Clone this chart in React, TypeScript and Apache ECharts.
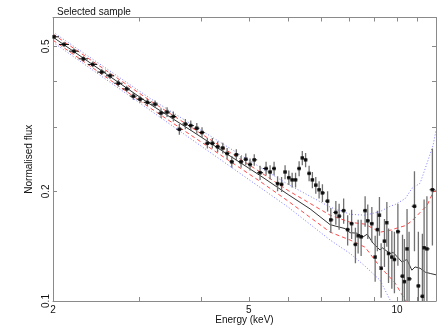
import React, { useEffect, useRef } from "react";
import * as echarts from "echarts";

const titleText = "Selected sample";
const xAxisTitle = "Energy (keV)";
const yAxisTitle = "Normalised flux";
const xRange = [2, 12];
const yRange = [0.1, 0.6];
const xTickValues = [2, 3, 4, 5, 6, 7, 8, 9, 10, 11, 12];
const xLabelValues = [2, 5, 10];
const yTickValues = [0.1, 0.2, 0.3, 0.4, 0.5, 0.6];
const yLabelValues = [0.1, 0.2, 0.5];

const energy = [
  2.01, 2.106, 2.207, 2.305, 2.409, 2.512, 2.612, 2.715, 2.824, 2.912,
  3.005, 3.11, 3.224, 3.315, 3.41, 3.512, 3.612, 3.715, 3.81, 3.919,
  4.016, 4.118, 4.215, 4.32, 4.426, 4.516, 4.616, 4.715, 4.821, 4.929,
  5.028, 5.128, 5.269, 5.419, 5.522, 5.626, 5.719, 5.827, 5.923, 6.028,
  6.122, 6.221, 6.325, 6.42, 6.52, 6.628, 6.73, 6.838, 6.945, 7.054,
  7.227, 7.336, 7.511, 7.627, 7.79, 7.937, 8.086, 8.231, 8.336, 8.454,
  8.613, 8.721, 8.888, 9.027, 9.123, 9.21, 9.283, 9.429, 9.535, 9.61,
  9.76, 9.879, 10.04, 10.26, 10.35, 10.48, 10.58, 10.85, 11.05, 11.26,
  11.35, 11.5, 11.8,
];
const flux = [
  0.531, 0.506, 0.485, 0.462, 0.446, 0.425, 0.415, 0.396, 0.382, 0.365,
  0.358, 0.351, 0.347, 0.328, 0.33, 0.321, 0.296, 0.306, 0.303, 0.298,
  0.29, 0.271, 0.271, 0.265, 0.263, 0.254, 0.241, 0.252, 0.241, 0.245,
  0.237, 0.244, 0.225, 0.231, 0.226, 0.231, 0.21, 0.209, 0.226, 0.218,
  0.215, 0.215, 0.231, 0.247, 0.244, 0.224, 0.215, 0.208, 0.202, 0.198,
  0.188, 0.167, 0.175, 0.171, 0.177, 0.157, 0.163, 0.143, 0.151, 0.15,
  0.177, 0.166, 0.163, 0.132, 0.157, 0.172, 0.123, 0.146, 0.164, 0.135,
  0.132, 0.13, 0.155, 0.117, 0.113, 0.139, 0.115, 0.182, 0.11, 0.103,
  0.14, 0.139, 0.202,
];
const fluxErr = [
  0.008, 0.008, 0.008, 0.008, 0.008, 0.008, 0.008, 0.008, 0.008, 0.008,
  0.008, 0.008, 0.008, 0.01, 0.01, 0.01, 0.01, 0.01, 0.01, 0.01,
  0.01, 0.009, 0.009, 0.009, 0.009, 0.009, 0.009, 0.009, 0.009, 0.009,
  0.009, 0.009, 0.01, 0.01, 0.01, 0.01, 0.01, 0.01, 0.01, 0.01,
  0.01, 0.01, 0.011, 0.011, 0.011, 0.011, 0.011, 0.011, 0.011, 0.011,
  0.012, 0.013, 0.013, 0.014, 0.014, 0.015, 0.015, 0.016, 0.016, 0.017,
  0.017, 0.018, 0.018, 0.019, 0.02, 0.021, 0.021, 0.022, 0.023, 0.023,
  0.024, 0.025, 0.03, 0.035, 0.035, 0.04, 0.04, 0.045, 0.045, 0.05,
  0.05, 0.055, 0.06,
];

const modelEnergy = [
  2.0, 2.269, 2.612, 3.149, 3.798, 4.58, 5.269, 6.008, 6.658, 7.313,
  7.843, 8.03, 8.297, 8.533, 8.694, 8.942, 9.239, 9.33, 9.683, 9.82,
  10.23, 10.47, 10.72, 10.88, 11.14, 11.41, 11.68, 12.0,
];
const modelFlux = [
  0.53, 0.471, 0.413, 0.347, 0.295, 0.25, 0.221, 0.196, 0.179, 0.162,
  0.158, 0.154, 0.1535, 0.15, 0.1525, 0.144, 0.138, 0.14, 0.135, 0.136,
  0.128, 0.13, 0.1215, 0.124, 0.123, 0.12, 0.119, 0.118,
];

const bandEnergy = [2.0, 3.149, 5.269, 6.008, 7.313, 8.03, 8.613, 9.239, 9.683, 9.912, 10.39, 10.73, 11.14, 11.51, 11.84, 12.0];
const redUpper = [0.54, 0.355, 0.226, 0.201, 0.172, 0.1645, 0.1625, 0.1545, 0.1564, 0.158, 0.161, 0.166, 0.175, 0.183, 0.199, 0.201];
const redLower = [0.52, 0.339, 0.213, 0.188, 0.1545, 0.147, 0.1405, 0.124, 0.116, 0.112, 0.1005, 0.094, 0.09, 0.09, 0.09, 0.09];
const blueUpper = [0.547, 0.36, 0.233, 0.209, 0.181, 0.173, 0.172, 0.176, 0.182, 0.184, 0.191, 0.204, 0.2105, 0.239, 0.268, 0.294];
const blueLower = [0.513, 0.334, 0.205, 0.181, 0.147, 0.135, 0.1246, 0.114, 0.1005, 0.094, 0.09, 0.09, 0.09, 0.09, 0.09, 0.09];

const FONT = "Liberation Sans, Arial, sans-serif";
const AXIS_GRAY = "#8a8a8a";

export default function App() {
  const ref = useRef<HTMLDivElement>(null);

  useEffect(() => {
    document.body.style.margin = "0";
    const chart = echarts.init(ref.current as HTMLDivElement, null, { renderer: "svg" });
    const lg = (v: number) => Math.log10(v);
    const fmt = (v: number) => String(Number(Math.pow(10, v).toPrecision(2)));
    const n = energy.length;
    const errData = energy.map((e, i) => {
      const lo = i === 0 ? e * Math.sqrt(e / energy[1]) : Math.sqrt(energy[i - 1] * e);
      const hi = i === n - 1 ? e * Math.sqrt(e / energy[n - 2]) : Math.sqrt(energy[i + 1] * e);
      return [e, flux[i], fluxErr[i], lo, hi];
    });
    const pair = (xs: number[], ys: number[]) => xs.map((x, i) => [x, ys[i]]);
    const bandLine = (data: number[][], color: string, dash: number[]) => ({
      type: "line",
      xAxisIndex: 0,
      yAxisIndex: 0,
      data,
      showSymbol: false,
      symbol: "none",
      silent: true,
      clip: true,
      lineStyle: { color, width: 1, type: dash },
      z: 2,
    });
    const tickAxisCommon = {
      axisLine: { show: true, onZero: false, lineStyle: { color: AXIS_GRAY, width: 1 } },
      splitLine: { show: false },
    };

    chart.setOption({
      animation: false,
      title: {
        text: titleText,
        left: 52,
        top: 1,
        textStyle: { fontSize: 10, fontWeight: "normal", color: "#111", fontFamily: FONT },
      },
      grid: { left: 53, right: 1, top: 17.5, bottom: 26, outerBoundsMode: "none", containLabel: false },
      xAxis: [
        { type: "log", logBase: 10, min: xRange[0], max: xRange[1], show: false },
        {
          type: "value",
          min: lg(xRange[0]),
          max: lg(xRange[1]),
          position: "bottom",
          ...tickAxisCommon,
          axisTick: { show: true, inside: true, length: 4, customValues: xTickValues.map(lg), lineStyle: { color: AXIS_GRAY } },
          axisLabel: { show: true, margin: 3, customValues: xLabelValues.map(lg), formatter: (v: number) => fmt(v), fontSize: 10, color: "#111", fontFamily: FONT },
          name: xAxisTitle,
          nameLocation: "middle",
          nameGap: 13,
          nameMoveOverlap: false,
          nameTextStyle: { fontSize: 10, color: "#111", fontFamily: FONT },
        },
        {
          type: "value",
          min: lg(xRange[0]),
          max: lg(xRange[1]),
          position: "top",
          ...tickAxisCommon,
          axisTick: { show: true, inside: true, length: 4, customValues: xTickValues.map(lg), lineStyle: { color: AXIS_GRAY } },
          axisLabel: { show: false },
        },
      ],
      yAxis: [
        { type: "log", logBase: 10, min: yRange[0], max: yRange[1], show: false },
        {
          type: "value",
          min: lg(yRange[0]),
          max: lg(yRange[1]),
          position: "left",
          ...tickAxisCommon,
          axisTick: { show: true, inside: true, length: 4, customValues: yTickValues.map(lg), lineStyle: { color: AXIS_GRAY } },
          axisLabel: { show: true, margin: 3, rotate: 90, customValues: yLabelValues.map(lg), formatter: (v: number) => fmt(v), fontSize: 10, color: "#111", fontFamily: FONT },
          name: yAxisTitle,
          nameLocation: "middle",
          nameGap: 20,
          nameRotate: 90,
          nameMoveOverlap: false,
          nameTextStyle: { fontSize: 10, color: "#111", fontFamily: FONT },
        },
        {
          type: "value",
          min: lg(yRange[0]),
          max: lg(yRange[1]),
          position: "right",
          ...tickAxisCommon,
          axisTick: { show: true, inside: true, length: 4, customValues: yTickValues.map(lg), lineStyle: { color: AXIS_GRAY } },
          axisLabel: { show: false },
        },
      ],
      series: [
        bandLine(pair(bandEnergy, blueUpper), "#7c7cff", [1, 2]),
        bandLine(pair(bandEnergy, blueLower), "#7c7cff", [1, 2]),
        bandLine(pair(bandEnergy, redUpper), "#ff4a4a", [4, 3]),
        bandLine(pair(bandEnergy, redLower), "#ff4a4a", [4, 3]),
        {
          type: "line",
          xAxisIndex: 0,
          yAxisIndex: 0,
          data: pair(modelEnergy, modelFlux),
          showSymbol: false,
          symbol: "none",
          silent: true,
          clip: true,
          lineStyle: { color: "#333", width: 1 },
          z: 3,
        },
        {
          type: "custom",
          xAxisIndex: 0,
          yAxisIndex: 0,
          data: errData,
          encode: { x: 0, y: 1 },
          clip: true,
          silent: true,
          z: 4,
          renderItem: (params: any, api: any) => {
            const e = api.value(0);
            const f = api.value(1);
            const err = api.value(2);
            const top = api.coord([e, f + err]);
            const bot = api.coord([e, f - err]);
            const l = api.coord([api.value(3), f]);
            const r = api.coord([api.value(4), f]);
            return {
              type: "group",
              children: [
                { type: "line", shape: { x1: top[0], y1: top[1], x2: bot[0], y2: bot[1] }, style: { stroke: "#707070", lineWidth: 1.3 } },
                { type: "line", shape: { x1: l[0], y1: l[1], x2: r[0], y2: r[1] }, style: { stroke: "#111", lineWidth: 1 } },
              ],
            };
          },
        },
        {
          type: "scatter",
          xAxisIndex: 0,
          yAxisIndex: 0,
          data: pair(energy, flux),
          symbol: "rect",
          symbolSize: 3.5,
          itemStyle: { color: "#000" },
          silent: true,
          z: 5,
        },
      ],
    });
    return () => chart.dispose();
  }, []);

  return <div ref={ref} style={{ position: "fixed", left: 0, top: 0, width: 437, height: 327 }} />;
}
